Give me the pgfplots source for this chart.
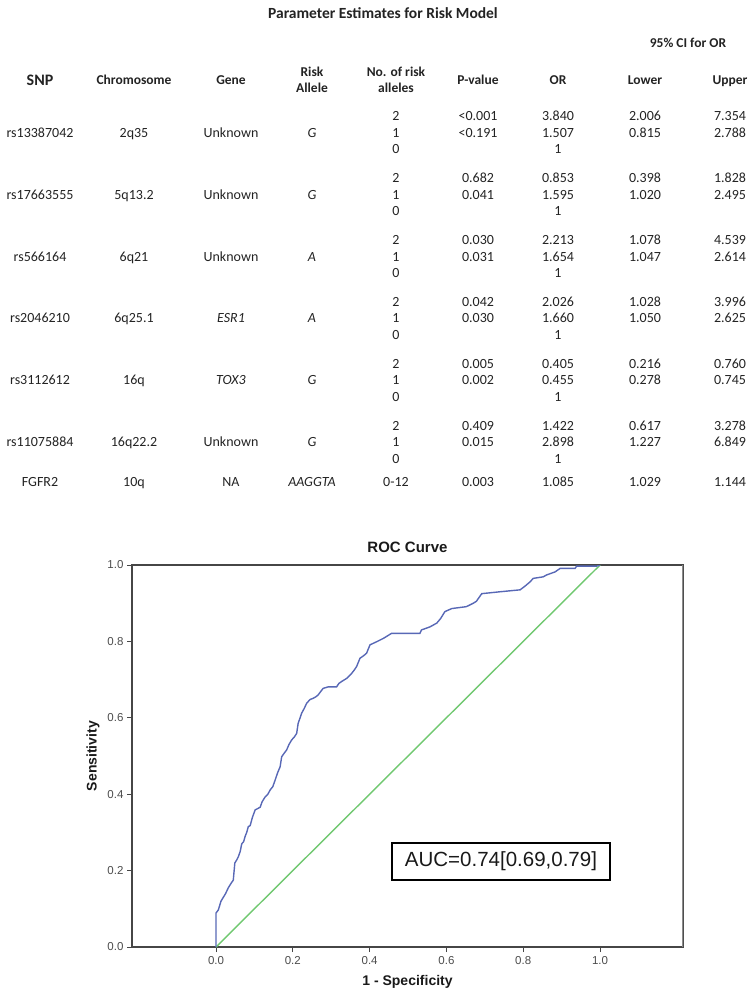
\documentclass[border=0pt]{standalone}
\usepackage{fontspec}
\setmainfont{Carlito}
\newfontfamily\arial{Liberation Sans}
\usepackage{pgfplots}
\pgfplotsset{compat=1.18}
\definecolor{roc}{RGB}{88,104,182}
\definecolor{diag}{RGB}{112,200,112}
\definecolor{axgray}{RGB}{70,70,70}
\definecolor{txt}{RGB}{35,35,35}
\newcommand\cell[3]{\node[anchor=base] at (#1,#2+4.5) {#3};}
\newcommand\row[6]{\cell{396}{#1}{#2}\cell{478}{#1}{#3}\cell{558}{#1}{#4}\cell{645}{#1}{#5}\cell{730}{#1}{#6}}
\newcommand\blk[5]{\cell{40}{#1+16.5}{#2}\cell{134}{#1+16.5}{#3}\cell{231}{#1+16.5}{#4}\cell{312}{#1+16.5}{#5}\cell{396}{#1+33}{0}\cell{558}{#1+33}{1}}
\begin{document}
\begin{tikzpicture}
\path[use as bounding box] (0pt,0pt) rectangle (750pt,-995pt);
\begin{scope}[x=1pt,y=-1pt, every node/.style={text=txt, font=\fontsize{14}{16}\selectfont, inner sep=0pt}]
\node[font=\fontsize{15.5}{18}\selectfont\bfseries] at (383,13) {Parameter Estimates for Risk Model};
\node[font=\fontsize{13.5}{16}\selectfont\bfseries] at (688,43) {95\% CI for OR};
\begin{scope}[every node/.append style={font=\fontsize{13.5}{16}\selectfont\bfseries}]
\node[font=\fontsize{16}{18}\selectfont\bfseries] at (40,80) {SNP};
\cell{134}{80}{Chromosome}
\cell{231}{80}{Gene}
\cell{312}{72}{Risk}
\cell{312}{88}{Allele}
\cell{396}{72}{No. of risk}
\cell{396}{88}{alleles}
\cell{478}{80}{P-value}
\cell{558}{80}{OR}
\cell{645}{80}{Lower}
\cell{730}{80}{Upper}
\end{scope}
% block 1
\blk{116.5}{rs13387042}{2q35}{Unknown}{\textit{G}}
\row{116.5}{2}{<0.001}{3.840}{2.006}{7.354}
\row{133}{1}{<0.191}{1.507}{0.815}{2.788}
% block 2
\blk{178.3}{rs17663555}{5q13.2}{Unknown}{\textit{G}}
\row{178.3}{2}{0.682}{0.853}{0.398}{1.828}
\row{194.8}{1}{0.041}{1.595}{1.020}{2.495}
% block 3
\blk{240.1}{rs566164}{6q21}{Unknown}{\textit{A}}
\row{240.1}{2}{0.030}{2.213}{1.078}{4.539}
\row{256.6}{1}{0.031}{1.654}{1.047}{2.614}
% block 4
\blk{301.9}{rs2046210}{6q25.1}{\textit{ESR1}}{\textit{A}}
\row{301.9}{2}{0.042}{2.026}{1.028}{3.996}
\row{318.4}{1}{0.030}{1.660}{1.050}{2.625}
% block 5
\blk{363.7}{rs3112612}{16q}{\textit{TOX3}}{\textit{G}}
\row{363.7}{2}{0.005}{0.405}{0.216}{0.760}
\row{380.2}{1}{0.002}{0.455}{0.278}{0.745}
% block 6
\blk{425.5}{rs11075884}{16q22.2}{Unknown}{\textit{G}}
\row{425.5}{2}{0.409}{1.422}{0.617}{3.278}
\row{442}{1}{0.015}{2.898}{1.227}{6.849}
% FGFR2
\cell{40}{482}{FGFR2}\cell{134}{482}{10q}\cell{231}{482}{NA}\cell{312}{482}{\textit{AAGGTA}}
\row{482}{0-12}{0.003}{1.085}{1.029}{1.144}
\end{scope}

\begin{axis}[
  at={(132pt,-947pt)}, anchor=south west,
  scale only axis, width=551pt, height=382pt,
  xmin=-0.21875, xmax=1.2161, ymin=0, ymax=1,
  xtick={0,0.2,0.4,0.6,0.8,1.0}, ytick={0,0.2,0.4,0.6,0.8,1.0},
  xticklabels={0.0,0.2,0.4,0.6,0.8,1.0},
  yticklabels={0.0,0.2,0.4,0.6,0.8,1.0},
  tick align=outside, xtick pos=bottom, ytick pos=left,
  major tick length=5pt,
  tick style={axgray, line width=1pt},
  axis line style={axgray, line width=1.3pt},
  ticklabel style={font=\arial\fontsize{11.5}{13}\selectfont, text=black!70},
  xticklabel style={yshift=-1pt},
  title={ROC Curve},
  title style={at={(axis description cs:0.5,1.0314)}, anchor=center, font=\arial\bfseries\fontsize{15}{17}\selectfont, text=black!90},
  xlabel={1 - Specificity},
  xlabel style={at={(axis description cs:0.5,-0.0916)}, anchor=center, font=\arial\bfseries\fontsize{14}{16}\selectfont, text=black!90},
  ylabel={Sensitivity},
  ylabel style={at={(axis description cs:-0.0708,0.5)}, anchor=center, font=\arial\bfseries\fontsize{14}{16}\selectfont, text=black!90},
]
\addplot[diag, line width=1.4pt] coordinates {(0,0) (1,1)};
\addplot[roc, line width=1.4pt] coordinates {
(0,0) (0,0.089) (0.006,0.097) (0.013,0.12) (0.019,0.13) (0.025,0.14) (0.032,0.155)
(0.040,0.168) (0.045,0.175) (0.049,0.22) (0.054,0.228) (0.058,0.236) (0.063,0.25)
(0.067,0.27) (0.072,0.276) (0.076,0.29) (0.080,0.30) (0.084,0.315) (0.089,0.318)
(0.095,0.34) (0.102,0.359) (0.108,0.362) (0.115,0.366) (0.12,0.38) (0.128,0.393)
(0.135,0.40) (0.141,0.411) (0.148,0.42) (0.154,0.437) (0.160,0.455) (0.167,0.472)
(0.171,0.498) (0.178,0.508) (0.184,0.516) (0.190,0.53) (0.197,0.542) (0.204,0.55)
(0.21,0.559) (0.214,0.586) (0.219,0.60) (0.223,0.612) (0.230,0.625) (0.236,0.638)
(0.245,0.648) (0.253,0.651) (0.260,0.655) (0.266,0.66) (0.272,0.668) (0.279,0.677)
(0.292,0.681) (0.314,0.681) (0.320,0.69) (0.327,0.695) (0.340,0.703) (0.353,0.716)
(0.360,0.725) (0.366,0.734) (0.375,0.756) (0.385,0.763) (0.392,0.769) (0.401,0.791)
(0.418,0.799) (0.436,0.808) (0.457,0.821) (0.531,0.821) (0.535,0.830) (0.557,0.838)
(0.575,0.848) (0.585,0.86) (0.596,0.878) (0.614,0.886) (0.652,0.891) (0.67,0.9)
(0.678,0.905) (0.692,0.925) (0.74,0.930) (0.792,0.935) (0.805,0.945) (0.818,0.956)
(0.826,0.965) (0.852,0.969) (0.861,0.974) (0.883,0.982) (0.896,0.991) (0.935,0.991)
(0.939,0.997) (0.991,0.997) (1,1)};
\draw[black!45, line width=1.3pt] (axis description cs:1,0) -- (axis description cs:1,1);
\node[draw=black, line width=1.5pt, minimum width=218pt, minimum height=37pt, inner sep=0pt,
  font=\arial\fontsize{20.5}{24}\selectfont, text=black!90] at (axis cs:0.742,0.224) {AUC=0.74[0.69,0.79]};
\end{axis}
\end{tikzpicture}
\end{document}
